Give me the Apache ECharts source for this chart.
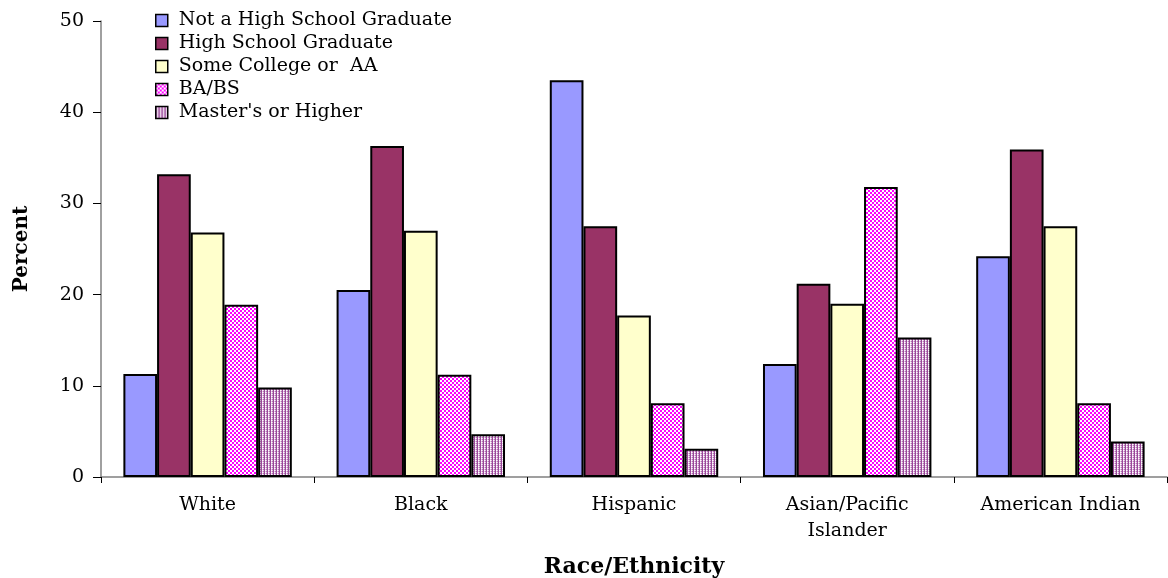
<!DOCTYPE html>
<html>
<head>
<meta charset="utf-8">
<script src="https://cdn.jsdelivr.net/npm/echarts@6/dist/echarts.min.js"></script>
<style>
  html, body { margin: 0; padding: 0; background: #fff; }
  #chart { width: 1168px; height: 578px; }
</style>
</head>
<body>
<div id="chart"></div>
<script>
var categories = ['White', 'Black', 'Hispanic', 'Asian/Pacific\nIslander', 'American Indian'];
var notHighSchool = [11.3, 20.5, 43.5, 12.4, 24.2];
var highSchool = [33.2, 36.3, 27.5, 21.2, 35.9];
var someCollege = [26.8, 27.0, 17.7, 19.0, 27.5];
var baBs = [18.9, 11.2, 8.1, 31.8, 8.1];
var masters = [9.8, 4.7, 3.1, 15.3, 3.9];

// small canvas tiles for the hatched fills
function makeTile(w, h, bg, cells) {
  var c = document.createElement('canvas');
  c.width = w; c.height = h;
  var ctx = c.getContext('2d');
  ctx.fillStyle = bg;
  ctx.fillRect(0, 0, w, h);
  cells.forEach(function (p) {
    ctx.fillStyle = p[4];
    ctx.fillRect(p[0], p[1], p[2], p[3]);
  });
  return { image: c, repeat: 'repeat' };
}
var checkFill = makeTile(4, 4, '#FF00FF', [[0, 0, 2, 2, '#FFFFFF'], [2, 2, 2, 2, '#FFFFFF']]);
var stripeFill = makeTile(3, 2, '#E2C4E2', [[0, 0, 1, 2, '#9A489A'], [1, 0, 1, 1, '#FFFFFF'], [2, 1, 1, 1, '#B070B0']]);

var font = 'DejaVu Serif';
var border = { borderColor: '#000', borderWidth: 2 };

function bar(name, data, color) {
  return {
    name: name,
    type: 'bar',
    data: data,
    barGap: '0%',
    barCategoryGap: '21%',
    itemStyle: Object.assign({ color: color }, border)
  };
}

var myChart = echarts.init(document.getElementById('chart'));
myChart.setOption({
  animation: false,
  textStyle: { fontFamily: font },
  grid: { left: 101, right: 1, top: 21, bottom: 101, outerBoundsMode: 'none', containLabel: false },
  legend: {
    orient: 'vertical',
    left: 150,
    top: 6,
    icon: 'rect',
    itemWidth: 12,
    itemHeight: 12,
    itemGap: 4,
    textStyle: { fontFamily: font, fontSize: 19, color: '#000', padding: [0, 0, 0, 6] },
    itemStyle: { borderColor: '#000', borderWidth: 1.5 },
    data: ['Not a High School Graduate', 'High School Graduate', 'Some College or  AA', 'BA/BS', "Master's or Higher"]
  },
  xAxis: {
    type: 'category',
    data: categories,
    name: 'Race/Ethnicity',
    nameLocation: 'middle',
    nameGap: 79,
    nameTextStyle: { fontFamily: font, fontSize: 22, fontWeight: 'bold', color: '#000' },
    axisLine: { lineStyle: { color: '#808080', width: 1.5 } },
    axisTick: { show: true, length: 6, lineStyle: { color: '#000' } },
    axisLabel: { fontFamily: font, fontSize: 19, color: '#000', margin: 15, lineHeight: 26 }
  },
  yAxis: {
    type: 'value',
    min: 0,
    max: 50,
    interval: 10,
    name: 'Percent',
    nameLocation: 'middle',
    nameGap: 69,
    nameRotate: 90,
    nameTextStyle: { fontFamily: font, fontSize: 20, fontWeight: 'bold', color: '#000' },
    axisLine: { show: true, lineStyle: { color: '#808080', width: 1.5 } },
    axisTick: { show: true, length: 8, lineStyle: { color: '#000' } },
    axisLabel: { fontFamily: font, fontSize: 19, color: '#000', margin: 17 },
    splitLine: { show: false }
  },
  series: [
    bar('Not a High School Graduate', notHighSchool, '#9999FF'),
    bar('High School Graduate', highSchool, '#993366'),
    bar('Some College or  AA', someCollege, '#FFFFCC'),
    bar('BA/BS', baBs, checkFill),
    bar("Master's or Higher", masters, stripeFill)
  ]
});
</script>
</body>
</html>
